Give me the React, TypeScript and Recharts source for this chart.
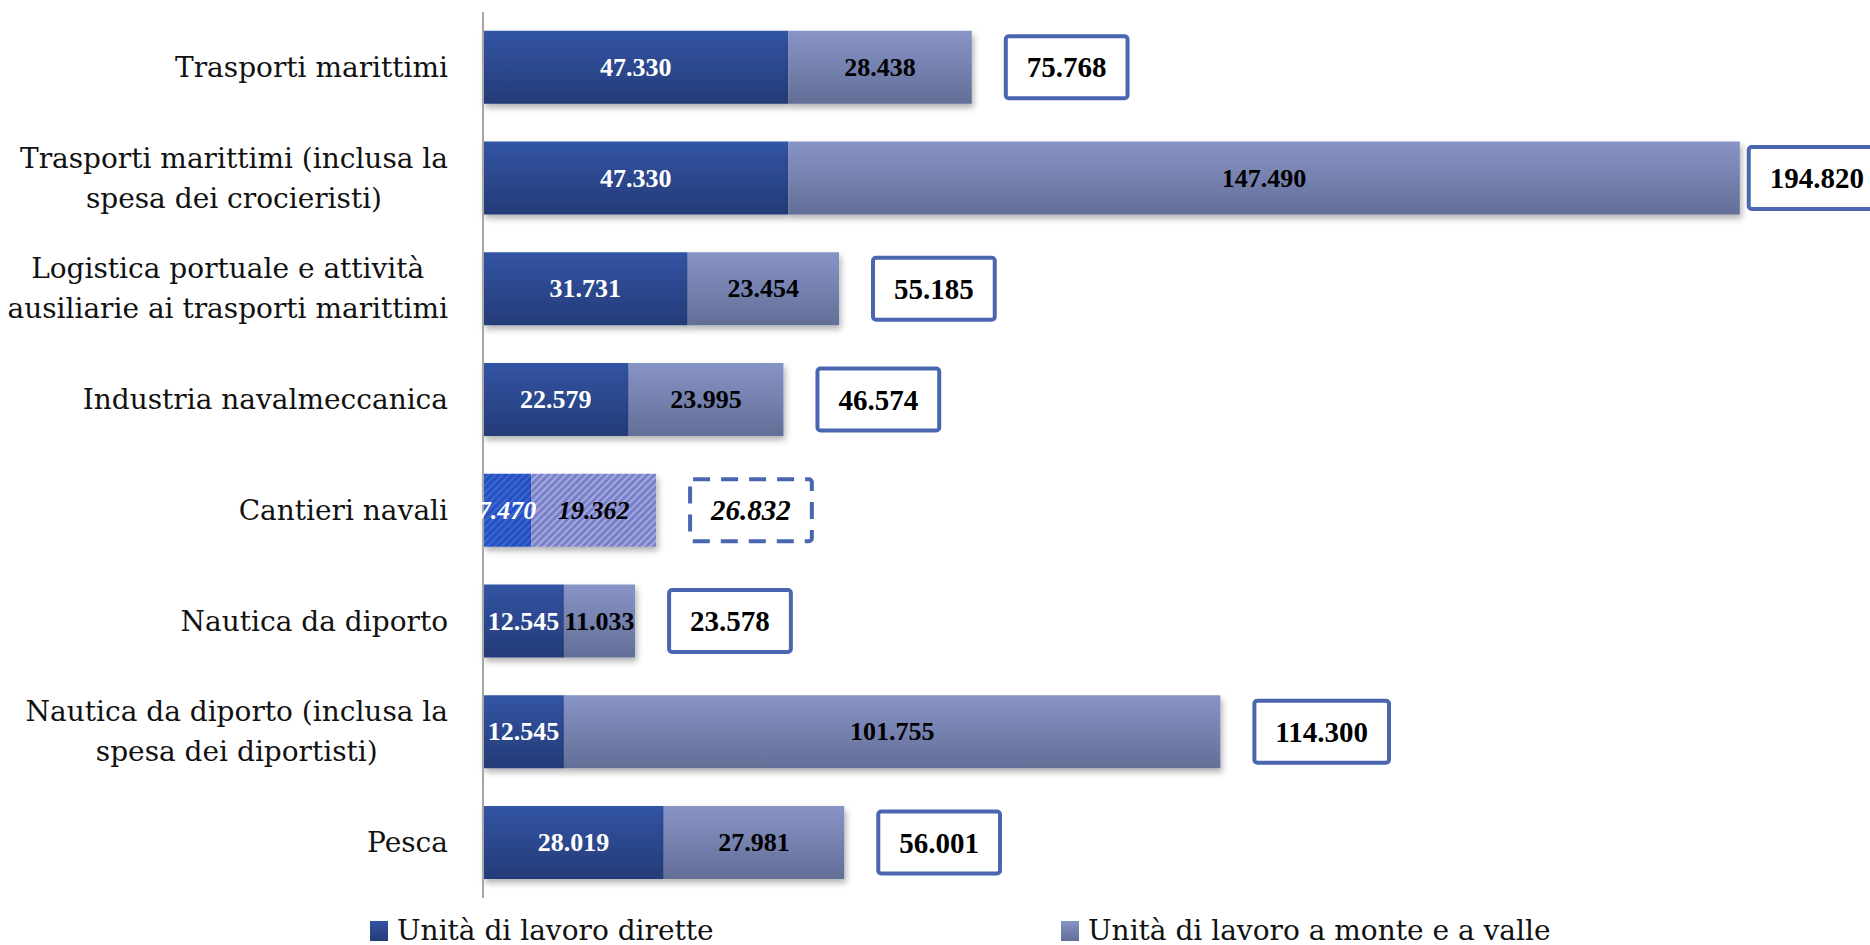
import React from "react";
import { BarChart, Bar, XAxis, YAxis, LabelList, Legend, Cell } from "recharts";

const categories = [
  "Trasporti marittimi",
  "Trasporti marittimi (inclusa la\nspesa dei crocieristi)",
  "Logistica portuale e attività\nausiliarie ai trasporti marittimi",
  "Industria navalmeccanica",
  "Cantieri navali",
  "Nautica da diporto",
  "Nautica da diporto (inclusa la\nspesa dei diportisti)",
  "Pesca",
];
const diretti = [47330, 47330, 31731, 22579, 7470, 12545, 12545, 28019];
const monteValle = [28438, 147490, 23454, 23995, 19362, 11033, 101755, 27981];
const totali = [75768, 194820, 55185, 46574, 26832, 23578, 114300, 56001];
// the Cantieri navali row is an estimate: hatched bars, italic numbers, dashed box
const stima = [false, false, false, false, true, false, false, false];

const seriesNames = ["Unità di lavoro dirette", "Unità di lavoro a monte e a valle"];

const data = categories.map((name, i) => ({
  name,
  diretti: diretti[i],
  monteValle: monteValle[i],
  totale: totali[i],
  stima: stima[i],
}));

const W = 1870;
const H = 945;
const LABEL_FONT = "DejaVu Serif";
const NUM_FONT = "Liberation Serif";

const fmt = (v: number) => String(v).replace(/\B(?=(\d{3})+(?!\d))/g, ".");

let ctx: CanvasRenderingContext2D | null = null;
function textWidth(text: string, font: string) {
  if (!ctx) ctx = document.createElement("canvas").getContext("2d");
  if (!ctx) return text.length * 14;
  ctx.font = font;
  return ctx.measureText(text).width;
}

function CategoryTick(props: any) {
  const { x, y, payload } = props;
  const lines = String(payload.value).split("\n");
  const font = `28px "${LABEL_FONT}"`;
  const widest = Math.max(...lines.map((l) => textWidth(l, font)));
  const cx = x - widest / 2;
  return (
    <text
      fill="#111"
      fontFamily={LABEL_FONT}
      fontSize={28}
      textAnchor="middle"
    >
      {lines.map((l, i) => (
        <tspan
          key={i}
          x={cx}
          y={y + (i - (lines.length - 1) / 2) * 40}
          dominantBaseline="central"
        >
          {l}
        </tspan>
      ))}
    </text>
  );
}

function segmentLabel(color: string) {
  return (props: any) => {
    const { x, y, width, height, value, index } = props;
    const italic = stima[index];
    return (
      <text
        x={x + width / 2}
        y={y + height / 2}
        fill={color}
        fontFamily={NUM_FONT}
        fontWeight="bold"
        fontStyle={italic ? "italic" : "normal"}
        fontSize={26}
        textAnchor="middle"
        dominantBaseline="central"
      >
        {fmt(value)}
      </text>
    );
  };
}

function TotalBox(props: any) {
  const { x, y, width, height, index } = props;
  const italic = stima[index];
  const label = fmt(totali[index]);
  const font = `${italic ? "italic " : ""}bold 29px "${NUM_FONT}"`;
  const boxW = textWidth(label, font) + 42;
  const boxH = 62;
  const bx = Math.min(x + width + 34, W - boxW + 15);
  const cy = y + height / 2;
  return (
    <g>
      <rect
        x={bx}
        y={cy - boxH / 2}
        width={boxW}
        height={boxH}
        rx={3}
        fill="#fff"
        stroke="#4a66b0"
        strokeWidth={4}
        strokeDasharray={italic ? "17 11" : undefined}
      />
      <text
        x={bx + boxW / 2}
        y={cy}
        fill="#000"
        fontFamily={NUM_FONT}
        fontWeight="bold"
        fontStyle={italic ? "italic" : "normal"}
        fontSize={29}
        textAnchor="middle"
        dominantBaseline="central"
      >
        {label}
      </text>
    </g>
  );
}

function LegendBox() {
  const swatches = [
    "linear-gradient(#3354a3, #243b78)",
    "linear-gradient(#8794c6, #636e97)",
  ];
  const lefts = [370, 1061];
  return (
    <div style={{ position: "relative", height: 47, width: W }}>
      {seriesNames.map((n, i) => (
        <div
          key={n}
          style={{
            position: "absolute",
            left: lefts[i],
            top: 16,
            display: "flex",
            alignItems: "center",
            fontFamily: LABEL_FONT,
            fontSize: 28,
            color: "#111",
            whiteSpace: "nowrap",
          }}
        >
          <span
            style={{
              display: "inline-block",
              width: 18,
              height: 20,
              background: swatches[i],
              marginRight: 9,
            }}
          />
          {n}
        </div>
      ))}
    </div>
  );
}

export default function App() {
  return (
    <div style={{ position: "absolute", left: 0, top: 0, width: W, height: H, background: "#fff" }}>
      <BarChart
        width={W}
        height={H}
        data={data}
        layout="vertical"
        margin={{ top: 12, right: 0, bottom: 0, left: 0 }}
        barCategoryGap="17%"
      >
        <defs>
          <linearGradient id="gradDiretti" x1="0" y1="0" x2="0" y2="1">
            <stop offset="0%" stopColor="#3354a3" />
            <stop offset="100%" stopColor="#243b78" />
          </linearGradient>
          <linearGradient id="gradMonte" x1="0" y1="0" x2="0" y2="1">
            <stop offset="0%" stopColor="#8794c6" />
            <stop offset="100%" stopColor="#636e97" />
          </linearGradient>
          <pattern id="hatchDiretti" width="5" height="5" patternUnits="userSpaceOnUse" patternTransform="rotate(45)">
            <rect width="5" height="5" fill="#1b52cc" />
            <rect width="2" height="5" fill="#4a63c0" />
          </pattern>
          <pattern id="hatchMonte" width="5" height="5" patternUnits="userSpaceOnUse" patternTransform="rotate(45)">
            <rect width="5" height="5" fill="#7880c8" />
            <rect width="2" height="5" fill="#a3a8e0" />
          </pattern>
          <filter id="barShadow" x="-5%" y="-20%" width="115%" height="160%">
            <feDropShadow dx="2" dy="4" stdDeviation="3" floodColor="#000" floodOpacity="0.3" />
          </filter>
        </defs>
        <XAxis type="number" hide domain={[0, 215000]} />
        <YAxis
          type="category"
          dataKey="name"
          width={483}
          interval={0}
          tickLine={false}
          tickSize={0}
          tickMargin={35}
          axisLine={{ stroke: "#a6a6a6", strokeWidth: 2 }}
          tick={<CategoryTick />}
        />
        <Legend
          verticalAlign="bottom"
          wrapperStyle={{ left: 0, width: W }}
          content={() => <LegendBox />}
        />
        <Bar
          dataKey="diretti"
          name={seriesNames[0]}
          stackId="a"
          fill="url(#gradDiretti)"
          filter="url(#barShadow)"
          isAnimationActive={false}
        >
          {data.map((d, i) => (
            <Cell key={i} fill={d.stima ? "url(#hatchDiretti)" : "url(#gradDiretti)"} />
          ))}
          <LabelList dataKey="diretti" content={segmentLabel("#ffffff")} />
        </Bar>
        <Bar
          dataKey="monteValle"
          name={seriesNames[1]}
          stackId="a"
          fill="url(#gradMonte)"
          filter="url(#barShadow)"
          isAnimationActive={false}
        >
          {data.map((d, i) => (
            <Cell key={i} fill={d.stima ? "url(#hatchMonte)" : "url(#gradMonte)"} />
          ))}
          <LabelList dataKey="monteValle" content={segmentLabel("#000000")} />
          <LabelList dataKey="totale" content={<TotalBox />} />
        </Bar>
      </BarChart>
    </div>
  );
}
